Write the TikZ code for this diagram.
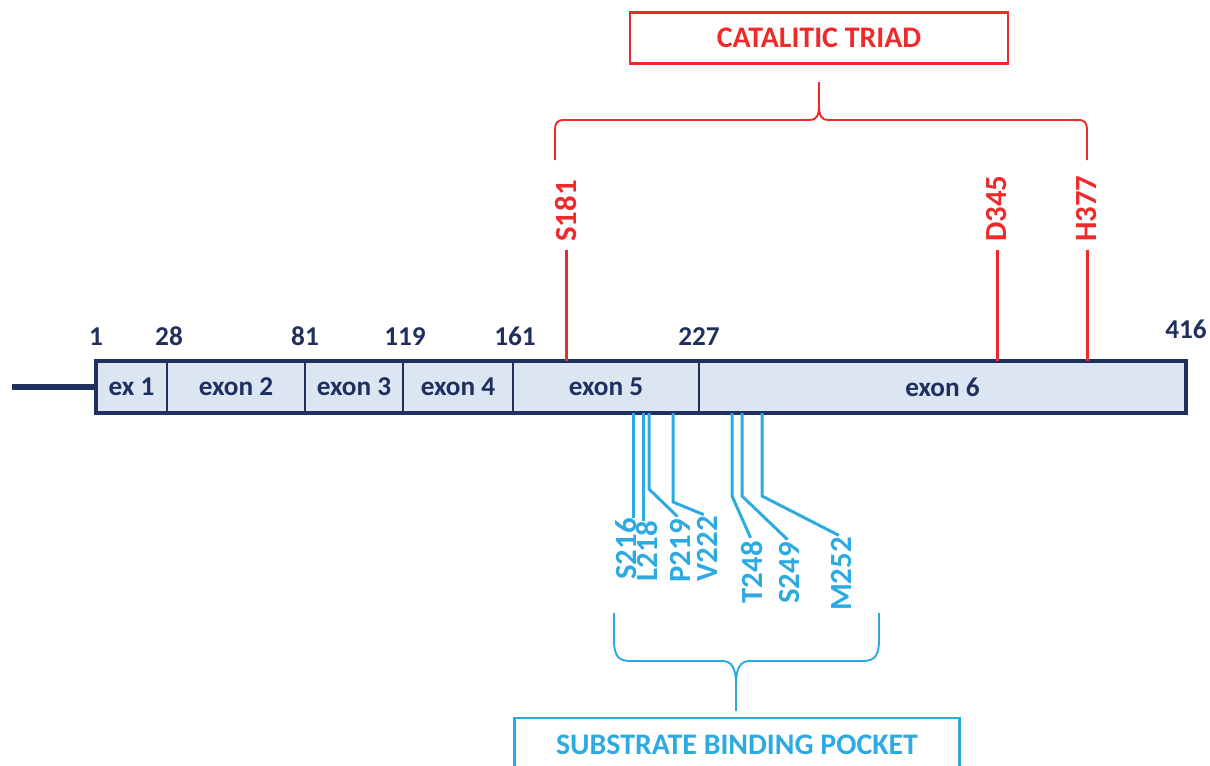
\documentclass[tikz,border=0pt]{standalone}
\usepackage{fontspec}
\setmainfont{Carlito}
\usetikzlibrary{positioning}
\definecolor{genenavy}{HTML}{1F2F5E}
\definecolor{exonfill}{HTML}{DCE6F2}
\definecolor{triadred}{HTML}{EE2A2A}
\definecolor{pocketblue}{HTML}{2DAAE1}
\newcommand{\pxu}{0.02cm}
\tikzset{
    genemap/.style={x=\pxu, y=-\pxu},
    exon/.style={draw=genenavy, line width=0.9pt, fill=exonfill, minimum height=52*\pxu,
        inner sep=0pt, outer sep=0pt, text=genenavy, font=\fontsize{15.5}{17}\selectfont\bfseries},
    posnum/.style={inner sep=0pt, text=genenavy, font=\fontsize{15.5}{17}\selectfont\bfseries},
    residue/.style={rotate=90, inner sep=0pt, font=\fontsize{17.5}{20}\selectfont\bfseries},
    % lines from the exon map to the residues
    triadline/.style={draw=triadred, line width=1.7pt},
    pocketline/.style={draw=pocketblue, line width=1.7pt},
    brace/.style={line width=1.1pt, line join=round},
    titlebox/.style={draw, line width=1.2pt, inner sep=0pt, font=\fontsize{17}{20}\selectfont\bfseries},
}
\begin{document}
\begin{tikzpicture}[genemap]
    \useasboundingbox (0,0) rectangle (1210,765);
    \clip (0,0) rectangle (1210,765);

    % exon map
    \node[exon, minimum width=71*\pxu, anchor=west] (ex1) at (96,387) {ex 1};
    \node[exon, minimum width=138*\pxu, right=0pt of ex1] (ex2) {exon 2};
    \node[exon, minimum width=98*\pxu, right=0pt of ex2]  (ex3) {exon 3};
    \node[exon, minimum width=110*\pxu, right=0pt of ex3] (ex4) {exon 4};
    \node[exon, minimum width=186*\pxu, right=0pt of ex4] (ex5) {exon 5};
    \node[exon, minimum width=487*\pxu, right=0pt of ex5] (ex6) {exon 6};
    \draw[genenavy, line width=2.2pt] (ex1.north west) rectangle (ex6.south east);
    \coordinate (tail) at (12,387);
    \draw[genenavy, line width=3.4pt] (tail) -- (ex1.west);

    \node[posnum, above=0.3cm of ex1.north west]                (n1)   {1};
    \node[posnum, above=0.3cm of ex2.north west, xshift=0.04cm] (n28)  {28};
    \node[posnum, above=0.3cm of ex3.north west]                (n81)  {81};
    \node[posnum, above=0.3cm of ex4.north west, xshift=0.04cm] (n119) {119};
    \node[posnum, above=0.3cm of ex5.north west, xshift=0.04cm] (n161) {161};
    \node[posnum, above=0.3cm of ex6.north west]                (n227) {227};
    \node[posnum, above=0.44cm of ex6.north east]               (n416) {416};

    % catalytic triad
    \node[titlebox, draw=triadred, text=triadred, minimum width=378*\pxu, minimum height=51*\pxu]
        (triad) at (819,38) {CATALITIC TRIAD};
    \node[residue, text=triadred, anchor=west] (s181) at (566,242) {S181};
    \node[residue, text=triadred, anchor=west] (d345) at (997,242) {D345};
    \node[residue, text=triadred, anchor=west] (h377) at (1087,242) {H377};
    \coordinate (r181) at (566,361);
    \coordinate (r345) at (997,361);
    \coordinate (r377) at (1087,361);
    \draw[triadline, shorten >=4.5pt] (r181) -- (s181.west);
    \draw[triadline, shorten >=4.5pt] (r345) -- (d345.west);
    \draw[triadline, shorten >=4.5pt] (r377) -- (h377.west);
    \draw[brace, triadred] (555,160) -- (555,130) .. controls (555,123) and (557,120) .. (564,120)
        -- (810,120) .. controls (816,120) and (819,116) .. (819,106) -- (819,82);
    \draw[brace, triadred] (1087,160) -- (1087,130) .. controls (1087,123) and (1085,120) .. (1078,120)
        -- (828,120) .. controls (822,120) and (819,116) .. (819,106);

    % substrate binding pocket
    \node[residue, text=pocketblue, anchor=east] (s216) at (626,518) {S216};
    \node[residue, text=pocketblue, anchor=east] (l218) at (647,521) {L218};
    \node[residue, text=pocketblue, anchor=east] (p219) at (680,519) {P219};
    \node[residue, text=pocketblue, anchor=east] (v222) at (707,516) {V222};
    \node[residue, text=pocketblue, anchor=east] (t248) at (752,541) {T248};
    \node[residue, text=pocketblue, anchor=east] (s249) at (790,542) {S249};
    \node[residue, text=pocketblue, anchor=east] (m252) at (842,537) {M252};
    \coordinate (f216) at (633,413);
    \coordinate (f218) at (643,413);
    \coordinate (f219) at (649,413);
    \coordinate (f222) at (673,413);
    \coordinate (f248) at (732,413);
    \coordinate (f249) at (742,413);
    \coordinate (f252) at (762,413);
    \draw[pocketline] (f216) -- (s216.east -| f216);
    \draw[pocketline] (f218) -- (l218.east -| f218);
    \draw[pocketline, shorten >=2pt] (f219) -- ++(0,76) -- (p219.east);
    \draw[pocketline, shorten >=2pt] (f222) -- ++(0,89) -- (v222.east);
    \draw[pocketline, shorten >=2pt] (f248) -- ++(0,83) -- (t248.east);
    \draw[pocketline, shorten >=2pt] (f249) -- ++(0,83) -- (s249.east);
    \draw[pocketline, shorten >=2pt] (f252) -- ++(0,83) -- (m252.east);
    \draw[brace, pocketblue] (614,613) -- (614,640) .. controls (614,655) and (618,661) .. (630,661)
        -- (722,661) .. controls (732,661) and (736,668) .. (736,685) -- (736,711);
    \draw[brace, pocketblue] (879,613) -- (879,640) .. controls (879,655) and (875,661) .. (863,661)
        -- (750,661) .. controls (740,661) and (736,668) .. (736,685);
    \node[titlebox, draw=pocketblue, text=pocketblue, minimum width=445*\pxu, minimum height=54*\pxu]
        (pocket) at (737,745) {SUBSTRATE BINDING POCKET};
\end{tikzpicture}
\end{document}
